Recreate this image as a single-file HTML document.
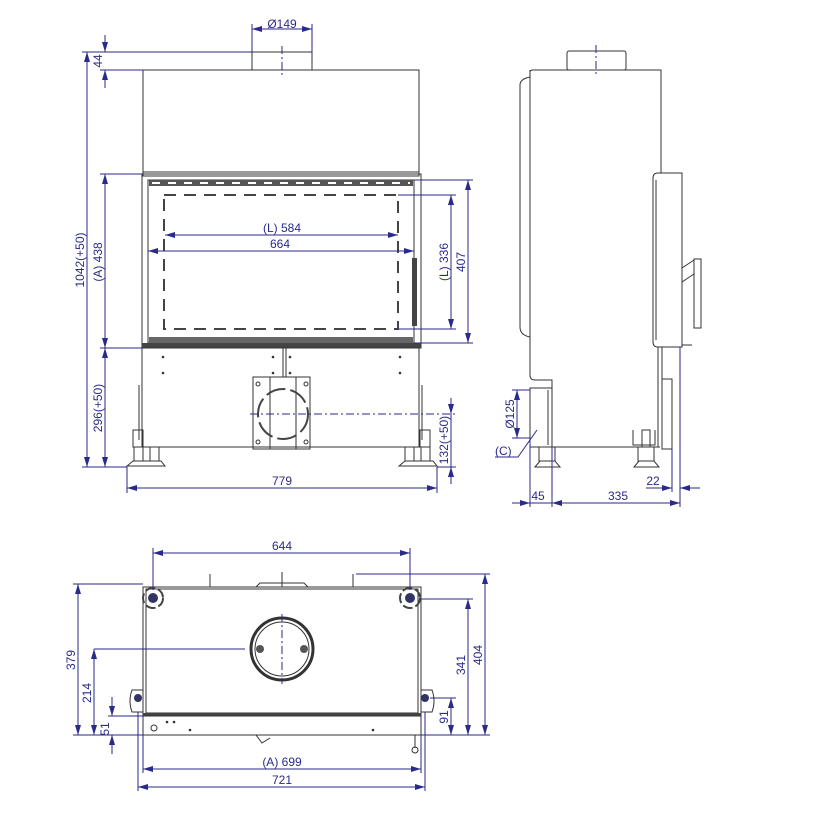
<!DOCTYPE html>
<html><head><meta charset="utf-8"><style>
html,body{margin:0;padding:0;background:#fff}
svg{display:block}
text{font-family:"Liberation Sans",sans-serif;font-size:12px;fill:#2a2a8a}
.d{stroke:#2a2a8a;stroke-width:1;fill:none}
.g{stroke:#333;stroke-width:1;fill:none}
.g2{stroke:#222;stroke-width:2;fill:none}
.c{stroke:#2a2a8a;stroke-width:1;fill:none;stroke-dasharray:8 3 2 3}
</style></head><body>
<svg width="832" height="832" viewBox="0 0 832 832" xmlns="http://www.w3.org/2000/svg">
<defs>
<marker id="a" viewBox="0 0 10 6" refX="10" refY="3" markerWidth="10" markerHeight="6" orient="auto-start-reverse" markerUnits="userSpaceOnUse"><path d="M0,0 L10,3 L0,6z" fill="#2a2a8a"/></marker>
</defs>

<!-- ===== FRONT VIEW ===== -->
<g>
<rect x="252" y="52" width="60" height="18" class="g"/>
<line x1="282" y1="46" x2="282" y2="76" class="c"/>
<rect x="143" y="70" width="276" height="104" class="g"/>
<rect x="142" y="174" width="279" height="174" class="g"/>
<rect x="143" y="172" width="276" height="4" class="g"/>
<rect x="148" y="180" width="266" height="163" class="g"/>
<rect x="149" y="180" width="264" height="6" fill="#555"/>
<line x1="152" y1="183" x2="410" y2="183" stroke="#fff" stroke-width="2" stroke-dasharray="8 8"/>
<rect x="149" y="337" width="264" height="6" fill="#666"/>
<rect x="142" y="343" width="279" height="5" fill="#444"/>
<rect x="164" y="195" width="234" height="134" fill="none" stroke="#444" stroke-width="2" stroke-dasharray="12 8"/>
<rect x="412" y="258" width="5" height="68" fill="#444"/>
<rect x="142" y="348" width="277" height="99" class="g"/>
<line x1="139" y1="385" x2="139" y2="440" class="g"/>
<line x1="422" y1="385" x2="422" y2="440" class="g"/>
<line x1="283" y1="348" x2="283" y2="377" class="g"/>
<line x1="286" y1="348" x2="286" y2="377" class="g"/>
<rect x="253" y="377" width="57" height="72" class="g"/>
<line x1="270" y1="377" x2="270" y2="449" class="g"/><line x1="296" y1="377" x2="296" y2="449" class="g"/>
<circle cx="283" cy="414" r="25" fill="none" stroke="#444" stroke-width="2" stroke-dasharray="20 5"/>
<circle cx="258" cy="384" r="2" class="g"/><circle cx="306" cy="384" r="2" class="g"/><circle cx="258" cy="442" r="2" class="g"/><circle cx="306" cy="442" r="2" class="g"/>
<g fill="#333"><circle cx="163" cy="357" r="1.3"/><circle cx="163" cy="373" r="1.3"/><circle cx="273" cy="357" r="1.3"/><circle cx="273" cy="373" r="1.3"/><circle cx="290" cy="357" r="1.3"/><circle cx="290" cy="373" r="1.3"/><circle cx="400" cy="357" r="1.3"/><circle cx="400" cy="373" r="1.3"/></g>
<!-- feet -->
<g class="g"><path d="M133,430 h10 v17 h-10z"/><rect x="134" y="447" width="9" height="14"/><rect x="150" y="447" width="9" height="14"/><path d="M127,466 l6,-5 h28 l4,5z"/>
<path d="M420,430 h10 v17 h-10z"/><rect x="405" y="447" width="9" height="14"/><rect x="421" y="447" width="9" height="14"/><path d="M399,466 l6,-5 h28 l4,5z"/></g>
<!-- dims -->
<line x1="252" y1="24" x2="252" y2="52" class="d"/><line x1="312" y1="24" x2="312" y2="52" class="d"/>
<line x1="252" y1="29" x2="312" y2="29" class="d" marker-start="url(#a)" marker-end="url(#a)"/>
<text x="282" y="28" text-anchor="middle">Ø149</text>
<line x1="82" y1="52" x2="252" y2="52" class="d"/><line x1="100" y1="70" x2="143" y2="70" class="d"/>
<line x1="105" y1="35" x2="105" y2="52" class="d" marker-end="url(#a)"/><line x1="105" y1="88" x2="105" y2="70" class="d" marker-end="url(#a)"/>
<text transform="translate(102,61) rotate(-90)" text-anchor="middle">44</text>
<line x1="87" y1="52" x2="87" y2="467" class="d" marker-start="url(#a)" marker-end="url(#a)"/>
<text transform="translate(84,260) rotate(-90)" text-anchor="middle">1042(+50)</text>
<line x1="100" y1="174" x2="142" y2="174" class="d"/><line x1="100" y1="348" x2="142" y2="348" class="d"/>
<line x1="82" y1="467" x2="127" y2="467" class="d"/>
<line x1="105" y1="174" x2="105" y2="348" class="d" marker-start="url(#a)" marker-end="url(#a)"/>
<text transform="translate(102,262) rotate(-90)" text-anchor="middle">(A) 438</text>
<line x1="105" y1="348" x2="105" y2="467" class="d" marker-start="url(#a)" marker-end="url(#a)"/>
<text transform="translate(102,408) rotate(-90)" text-anchor="middle">296(+50)</text>
<line x1="165" y1="235" x2="398" y2="235" class="d" marker-start="url(#a)" marker-end="url(#a)"/>
<text x="282" y="232" text-anchor="middle">(L) 584</text>
<line x1="148" y1="251" x2="414" y2="251" class="d" marker-start="url(#a)" marker-end="url(#a)"/>
<text x="280" y="248" text-anchor="middle">664</text>
<line x1="414" y1="180" x2="473" y2="180" class="d"/><line x1="414" y1="343" x2="473" y2="343" class="d"/>
<line x1="398" y1="195" x2="456" y2="195" class="d"/><line x1="398" y1="329" x2="456" y2="329" class="d"/>
<line x1="468" y1="180" x2="468" y2="343" class="d" marker-start="url(#a)" marker-end="url(#a)"/>
<text transform="translate(465,262) rotate(-90)" text-anchor="middle">407</text>
<line x1="451" y1="195" x2="451" y2="329" class="d" marker-start="url(#a)" marker-end="url(#a)"/>
<text transform="translate(448,262) rotate(-90)" text-anchor="middle">(L) 336</text>
<line x1="250" y1="414" x2="456" y2="414" class="c"/>
<line x1="437" y1="467" x2="456" y2="467" class="d"/>
<line x1="451" y1="398" x2="451" y2="414" class="d" marker-end="url(#a)"/><line x1="451" y1="484" x2="451" y2="467" class="d" marker-end="url(#a)"/>
<line x1="451" y1="414" x2="451" y2="467" class="d"/>
<text transform="translate(448,440) rotate(-90)" text-anchor="middle">132(+50)</text>
<line x1="127" y1="467" x2="127" y2="493" class="d"/><line x1="437" y1="467" x2="437" y2="493" class="d"/>
<line x1="127" y1="488" x2="437" y2="488" class="d" marker-start="url(#a)" marker-end="url(#a)"/>
<text x="282" y="485" text-anchor="middle">779</text>
</g>

<!-- ===== SIDE VIEW ===== -->
<g>
<rect x="567" y="51" width="59" height="19" rx="2" class="g"/>
<line x1="596" y1="45" x2="596" y2="76" class="c"/>
<path d="M530,72 Q530,70 533,70 H661 V173" class="g"/>
<path d="M530,77 Q520,79 520,85 V327 Q520,335 530,337" class="g"/>
<path d="M530,70 V375 Q530,380 535,380 H552 V447 H660" class="g"/>
<path d="M653,178 Q653,173 658,173 H682 V347 H658 Q653,347 653,342z" class="g"/>
<line x1="656" y1="180" x2="656" y2="340" class="g"/>
<path d="M682,268 L694,260 M682,282 L694,274" class="g"/>
<rect x="694" y="259" width="7" height="69" class="g"/>
<path d="M658,347 V447 M662,347 V447" class="g"/>
<rect x="662" y="379" width="10" height="70" class="g"/>
<line x1="682" y1="345" x2="692" y2="345" class="g"/>
<rect x="530" y="388" width="22" height="59" class="g"/>
<line x1="548" y1="390" x2="548" y2="445" class="g"/>
<g class="g"><rect x="539" y="447" width="16" height="14"/><path d="M535,467 l5,-6 h15 l5,6z"/><rect x="638" y="447" width="16" height="14"/><path d="M634,467 l5,-6 h15 l5,6z"/><rect x="642" y="430" width="8" height="17"/><path d="M633,430 v15 h22 v-15"/></g>
<!-- dims -->
<line x1="512" y1="390" x2="530" y2="390" class="d"/><line x1="512" y1="438" x2="530" y2="438" class="d"/>
<line x1="517" y1="390" x2="517" y2="438" class="d" marker-start="url(#a)" marker-end="url(#a)"/>
<text transform="translate(514,414) rotate(-90)" text-anchor="middle">Ø125</text>
<path d="M495,457 H518 L537,430" class="d"/>
<text x="495" y="455">(C)</text>
<line x1="530" y1="440" x2="530" y2="507" class="d"/><line x1="552" y1="447" x2="552" y2="507" class="d"/>
<line x1="680" y1="347" x2="680" y2="507" class="d"/><line x1="672" y1="449" x2="672" y2="492" class="d"/>
<line x1="512" y1="503" x2="530" y2="503" class="d" marker-end="url(#a)"/>
<line x1="530" y1="503" x2="552" y2="503" class="d"/>
<line x1="552" y1="503" x2="680" y2="503" class="d" marker-start="url(#a)" marker-end="url(#a)"/>
<text x="538" y="500" text-anchor="middle">45</text>
<text x="618" y="500" text-anchor="middle">335</text>
<line x1="646" y1="488" x2="672" y2="488" class="d" marker-end="url(#a)"/>
<line x1="700" y1="488" x2="680" y2="488" class="d" marker-end="url(#a)"/>
<text x="653" y="485" text-anchor="middle">22</text>
</g>

<!-- ===== PLAN VIEW ===== -->
<g>
<rect x="143" y="587" width="278" height="128" class="g"/>
<rect x="146" y="589" width="272" height="124" class="g"/>
<rect x="143" y="713" width="278" height="3" fill="#444"/>
<rect x="143" y="716" width="278" height="19" class="g"/>
<line x1="210" y1="574" x2="210" y2="587" class="g"/><line x1="282" y1="572" x2="282" y2="587" class="g"/><line x1="353" y1="574" x2="353" y2="587" class="g"/>
<path d="M256,587 l4,-4 h44 l4,4" class="g"/>
<circle cx="282" cy="649" r="31" fill="none" stroke="#333" stroke-width="3"/>
<circle cx="282" cy="649" r="27" class="g"/>
<circle cx="260" cy="649" r="4" fill="#555"/><circle cx="304" cy="649" r="4" fill="#555"/>
<line x1="282" y1="614" x2="282" y2="684" class="c"/>
<circle cx="153" cy="598" r="10" fill="none" stroke="#444" stroke-width="2" stroke-dasharray="10 3"/><circle cx="153" cy="598" r="5" fill="#336"/>
<circle cx="410" cy="598" r="10" fill="none" stroke="#444" stroke-width="2" stroke-dasharray="10 3"/><circle cx="410" cy="598" r="5" fill="#336"/>
<path d="M132,690 h11 v22 h-11 q-4,-11 0,-22z" class="g"/><circle cx="138" cy="698" r="4" fill="#336"/>
<path d="M421,690 h11 q4,11 0,22 h-11z" class="g"/><circle cx="425" cy="698" r="4" fill="#336"/>
<circle cx="154" cy="728" r="3" class="g"/><g fill="#333"><circle cx="167" cy="722" r="1.3"/><circle cx="174" cy="722" r="1.3"/><circle cx="190" cy="730" r="1.3"/><circle cx="373" cy="730" r="1.3"/></g>
<path d="M256,735 l6,8 l8,-5" class="g"/>
<line x1="415" y1="735" x2="415" y2="748" class="g"/><circle cx="415" cy="750" r="3" class="g"/>
<!-- dims -->
<line x1="153" y1="548" x2="153" y2="590" class="d"/><line x1="410" y1="548" x2="410" y2="590" class="d"/>
<line x1="153" y1="553" x2="410" y2="553" class="d" marker-start="url(#a)" marker-end="url(#a)"/>
<text x="282" y="550" text-anchor="middle">644</text>
<line x1="73" y1="584" x2="143" y2="584" class="d"/><line x1="73" y1="735" x2="143" y2="735" class="d"/>
<line x1="78" y1="584" x2="78" y2="735" class="d" marker-start="url(#a)" marker-end="url(#a)"/>
<text transform="translate(75,660) rotate(-90)" text-anchor="middle">379</text>
<line x1="94" y1="649" x2="245" y2="649" class="d"/>
<line x1="94" y1="649" x2="94" y2="735" class="d" marker-start="url(#a)" marker-end="url(#a)"/>
<text transform="translate(91,693) rotate(-90)" text-anchor="middle">214</text>
<line x1="108" y1="716" x2="143" y2="716" class="d"/>
<line x1="112" y1="697" x2="112" y2="716" class="d" marker-end="url(#a)"/>
<line x1="112" y1="754" x2="112" y2="735" class="d" marker-end="url(#a)"/>
<text transform="translate(109,729) rotate(-90)" text-anchor="middle">51</text>
<line x1="430" y1="698" x2="456" y2="698" class="d"/><line x1="421" y1="735" x2="490" y2="735" class="d"/>
<line x1="451" y1="698" x2="451" y2="735" class="d" marker-start="url(#a)" marker-end="url(#a)"/>
<text transform="translate(448,717) rotate(-90)" text-anchor="middle">91</text>
<line x1="420" y1="599" x2="473" y2="599" class="d"/>
<line x1="468" y1="599" x2="468" y2="735" class="d" marker-start="url(#a)" marker-end="url(#a)"/>
<text transform="translate(465,665) rotate(-90)" text-anchor="middle">341</text>
<line x1="356" y1="574" x2="490" y2="574" class="d"/>
<line x1="485" y1="574" x2="485" y2="735" class="d" marker-start="url(#a)" marker-end="url(#a)"/>
<text transform="translate(482,655) rotate(-90)" text-anchor="middle">404</text>
<line x1="143" y1="735" x2="143" y2="773" class="d"/><line x1="421" y1="735" x2="421" y2="773" class="d"/>
<line x1="138" y1="712" x2="138" y2="791" class="d"/><line x1="425" y1="712" x2="425" y2="791" class="d"/>
<line x1="143" y1="769" x2="421" y2="769" class="d" marker-start="url(#a)" marker-end="url(#a)"/>
<text x="282" y="766" text-anchor="middle">(A) 699</text>
<line x1="138" y1="787" x2="425" y2="787" class="d" marker-start="url(#a)" marker-end="url(#a)"/>
<text x="282" y="784" text-anchor="middle">721</text>
</g>
</svg>
</body></html>
